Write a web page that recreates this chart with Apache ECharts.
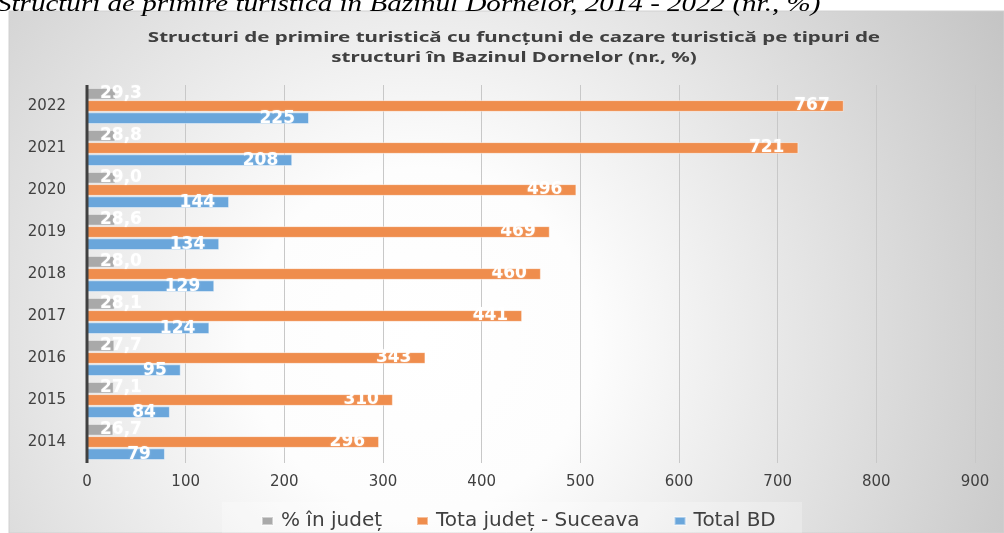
<!DOCTYPE html>
<html>
<head>
<meta charset="utf-8">
<script src="https://cdn.jsdelivr.net/npm/echarts@6/dist/echarts.min.js"></script>
<style>
  html, body { margin: 0; padding: 0; background: #fff; }
  #chart { width: 1004px; height: 533px; }
</style>
</head>
<body>
<div id="chart"></div>
<script>
// Years on the category axis (bottom to top)
const years = ['2014', '2015', '2016', '2017', '2018', '2019', '2020', '2021', '2022'];
// Share of the county total (%)
const pctJudet = [26.7, 27.1, 27.7, 28.1, 28.0, 28.6, 29.0, 28.8, 29.3];
// County total - Suceava (nr.)
const totalJudet = [296, 310, 343, 441, 460, 469, 496, 721, 767];
// Total Bazinul Dornelor (nr.)
const totalBD = [79, 84, 95, 124, 129, 134, 144, 208, 225];

const seriesNames = ['% în județ', 'Tota județ - Suceava', 'Total BD'];
const captionText = 'Structuri de primire turistică în Bazinul Dornelor, 2014 - 2022 (nr., %)';
const titleText = 'Structuri de primire turistică cu funcțuni de cazare turistică pe tipuri de\nstructuri în Bazinul Dornelor (nr., %)';

const chart = echarts.init(document.getElementById('chart'), null, { renderer: 'canvas' });

const labelBase = {
  show: true,
  color: '#ffffff',
  fontFamily: 'DejaVu Sans',
  fontWeight: 'bold',
  fontSize: 17,
  textShadowColor: 'rgba(255,255,255,0.35)',
  textShadowBlur: 2
};

const option = {
  backgroundColor: '#ffffff',
  animation: false,
  graphic: [
    {
      // chart panel with soft radial shading
      id: 'panel',
      type: 'rect',
      z: -10,
      silent: true,
      shape: { x: 9, y: 11, width: 995, height: 522 },
      style: {
        fill: {
          type: 'radial',
          x: 420, y: 340, r: 690,
          global: true,
          colorStops: [
            { offset: 0, color: '#ffffff' },
            { offset: 0.25, color: '#fdfdfd' },
            { offset: 1, color: '#c2c2c2' }
          ]
        },
        stroke: '#d0d0d0',
        lineWidth: 1
      }
    },
    {
      // light band behind the legend
      id: 'legendBand',
      type: 'rect',
      z: -9,
      silent: true,
      shape: { x: 222, y: 502, width: 580, height: 31 },
      style: { fill: 'rgba(255,255,255,0.25)' }
    },
    {
      // figure caption above the panel
      id: 'caption',
      type: 'text',
      silent: true,
      x: -3,
      y: -7,
      scaleX: 1.21,
      style: {
        text: captionText,
        x: 0,
        y: 0,
        font: 'italic 24px "Liberation Serif"',
        fill: '#000000',
        verticalAlign: 'top'
      }
    },
    {
      // chart title
      id: 'title',
      type: 'text',
      silent: true,
      x: 514,
      y: 28,
      scaleX: 1.37,
      style: {
        text: titleText,
        x: 0,
        y: 0,
        align: 'center',
        verticalAlign: 'top',
        font: 'bold 15px "Noto Sans"',
        lineHeight: 20,
        fill: '#404040'
      }
    }
  ],
  legend: {
    data: seriesNames,
    top: 506,
    left: 256,
    icon: 'rect',
    itemWidth: 11,
    itemHeight: 8,
    itemGap: 34,
    textStyle: {
      fontFamily: 'DejaVu Sans',
      fontSize: 20,
      color: '#404040',
      padding: [0, 0, 0, 3]
    }
  },
  grid: {
    left: 87,
    right: 29,
    top: 85,
    bottom: 70,
    containLabel: false
  },
  xAxis: {
    type: 'value',
    min: 0,
    max: 900,
    interval: 100,
    axisLine: { show: false },
    axisTick: { show: false },
    splitLine: { show: true, lineStyle: { color: '#c8c8c8', width: 1 } },
    axisLabel: {
      margin: 12,
      fontFamily: 'DejaVu Sans',
      fontSize: 15,
      color: '#404040'
    }
  },
  yAxis: {
    type: 'category',
    data: years,
    axisLine: { show: false },
    axisTick: { show: false },
    axisLabel: {
      margin: 21,
      fontFamily: 'DejaVu Sans',
      fontSize: 15,
      color: '#404040'
    }
  },
  series: [
    {
      name: seriesNames[0],
      type: 'bar',
      data: pctJudet,
      barCategoryGap: '14%',
      barGap: '4%',
      itemStyle: { color: '#a9a9a9', borderColor: 'rgba(255,255,255,0.45)', borderWidth: 1 },
      label: Object.assign({}, labelBase, {
        position: 'insideLeft',
        distance: 13,
        formatter: p => p.value.toFixed(1).replace('.', ',')
      })
    },
    {
      name: seriesNames[1],
      type: 'bar',
      data: totalJudet,
      barCategoryGap: '14%',
      barGap: '4%',
      itemStyle: { color: '#ef8d4d', borderColor: 'rgba(255,255,255,0.45)', borderWidth: 1 },
      label: Object.assign({}, labelBase, { position: 'insideRight', distance: 14 })
    },
    {
      name: seriesNames[2],
      type: 'bar',
      data: totalBD,
      barCategoryGap: '14%',
      barGap: '4%',
      itemStyle: { color: '#6aa6db', borderColor: 'rgba(255,255,255,0.45)', borderWidth: 1 },
      label: Object.assign({}, labelBase, { position: 'insideRight', distance: 14 })
    }
  ]
};

chart.setOption(option);

// Dark vertical baseline at value 0, drawn over the bar ends
const gridRect = chart.getModel().getComponent('grid', 0).coordinateSystem.getRect();
const zeroX = chart.convertToPixel({ xAxisIndex: 0 }, 0);
chart.setOption({
  graphic: [{
    id: 'baseline',
    type: 'line',
    silent: true,
    z: 100,
    shape: { x1: zeroX, y1: gridRect.y, x2: zeroX, y2: gridRect.y + gridRect.height },
    style: { stroke: '#404040', lineWidth: 3 }
  }]
});
</script>
</body>
</html>
